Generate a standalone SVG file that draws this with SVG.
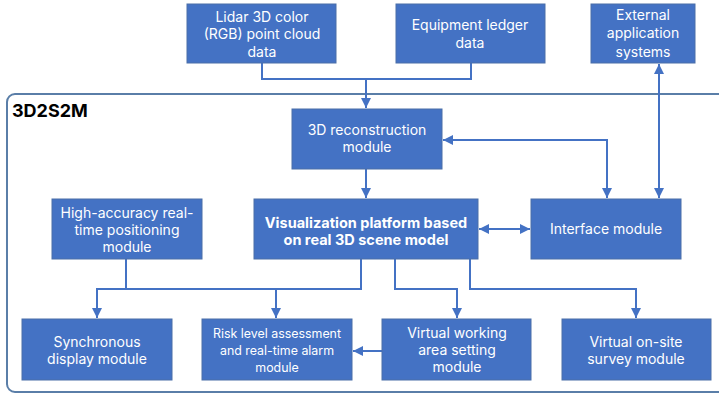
<svg xmlns="http://www.w3.org/2000/svg" width="719" height="396" viewBox="0 0 719 396">
<style>
.box{fill:#4472C4;stroke:#4A6FA8;stroke-width:1}
.t{font-family:Inter,"Open Sans","Noto Sans",sans-serif;font-size:14px;fill:#fff;text-anchor:middle}
.s{font-size:12.4px}
.b{font-weight:bold;font-size:14.5px}
.c{fill:none;stroke:#4472C4;stroke-width:2}
</style>
<defs>
<marker id="ah" viewBox="0 0 10 10" refX="10" refY="5" markerWidth="5" markerHeight="5" orient="auto-start-reverse" markerUnits="strokeWidth">
<path d="M0,0 L10,5 L0,10 z" fill="#4472C4"/>
</marker>
</defs>
<rect width="719" height="396" fill="#fff"/>
<g id="container">
<rect x="7" y="94" width="722" height="298" rx="8" fill="none" stroke="#5A7EA8" stroke-width="2"/>
<text x="12" y="117" font-family="Inter,'Open Sans',sans-serif" font-size="18" font-weight="bold" fill="#000">3D2S2M</text>
</g>
<g id="connectors">
<path class="c" d="M262,63 V79 H366 V108" marker-end="url(#ah)"/>
<path class="c" d="M471,63 V79 H366"/>
<path class="c" d="M366,169 V198" marker-end="url(#ah)"/>
<path class="c" d="M443,140 H607 V198" marker-start="url(#ah)" marker-end="url(#ah)"/>
<path class="c" d="M659,64 V198" marker-start="url(#ah)" marker-end="url(#ah)"/>
<path class="c" d="M479,229 H530" marker-start="url(#ah)" marker-end="url(#ah)"/>
<path class="c" d="M126,259 V289"/>
<path class="c" d="M361,259 V289 H97 V318" marker-end="url(#ah)"/>
<path class="c" d="M276,289 V318" marker-end="url(#ah)"/>
<path class="c" d="M395,259 V289 H457 V318" marker-end="url(#ah)"/>
<path class="c" d="M470,259 V289 H636 V318" marker-end="url(#ah)"/>
<path class="c" d="M382,351 H353" marker-end="url(#ah)"/>
</g>
<g id="lidar"><rect class="box" x="187" y="4" width="149" height="59"/>
<text class="t"><tspan x="262" y="22">Lidar 3D color</tspan><tspan x="262" y="39">(RGB) point cloud</tspan><tspan x="262" y="57">data</tspan></text></g>
<g id="ledger"><rect class="box" x="396" y="4" width="149" height="59"/>
<text class="t"><tspan x="470" y="30">Equipment ledger</tspan><tspan x="470" y="48">data</tspan></text></g>
<g id="external"><rect class="box" x="591" y="4" width="104" height="59"/>
<text class="t"><tspan x="643" y="20">External</tspan><tspan x="643" y="38">application</tspan><tspan x="643" y="57">systems</tspan></text></g>
<g id="recon"><rect class="box" x="292" y="109" width="150" height="60"/>
<text class="t"><tspan x="367" y="135">3D reconstruction</tspan><tspan x="367" y="152">module</tspan></text></g>
<g id="highacc"><rect class="box" x="52" y="199" width="150" height="60"/>
<text class="t"><tspan x="127" y="218">High-accuracy real-</tspan><tspan x="127" y="235">time positioning</tspan><tspan x="127" y="252">module</tspan></text></g>
<g id="viz"><rect class="box" x="254" y="199" width="224" height="60"/>
<text class="t b"><tspan x="366" y="227.5">Visualization platform based</tspan><tspan x="366" y="245">on real 3D scene model</tspan></text></g>
<g id="interface"><rect class="box" x="531" y="199" width="150" height="60"/>
<text class="t" x="606" y="234">Interface module</text></g>
<g id="sync"><rect class="box" x="22" y="319" width="150" height="61"/>
<text class="t"><tspan x="97" y="347">Synchronous</tspan><tspan x="97" y="364">display module</tspan></text></g>
<g id="risk"><rect class="box" x="202" y="319" width="150" height="61"/>
<text class="t s"><tspan x="277" y="338">Risk level assessment</tspan><tspan x="277" y="355">and real-time alarm</tspan><tspan x="277" y="372">module</tspan></text></g>
<g id="vwork"><rect class="box" x="382" y="319" width="149" height="61"/>
<text class="t"><tspan x="457" y="338">Virtual working</tspan><tspan x="457" y="355">area setting</tspan><tspan x="457" y="372">module</tspan></text></g>
<g id="vsurvey"><rect class="box" x="562" y="319" width="149" height="61"/>
<text class="t"><tspan x="636" y="347">Virtual on-site</tspan><tspan x="636" y="364">survey module</tspan></text></g>
</svg>
